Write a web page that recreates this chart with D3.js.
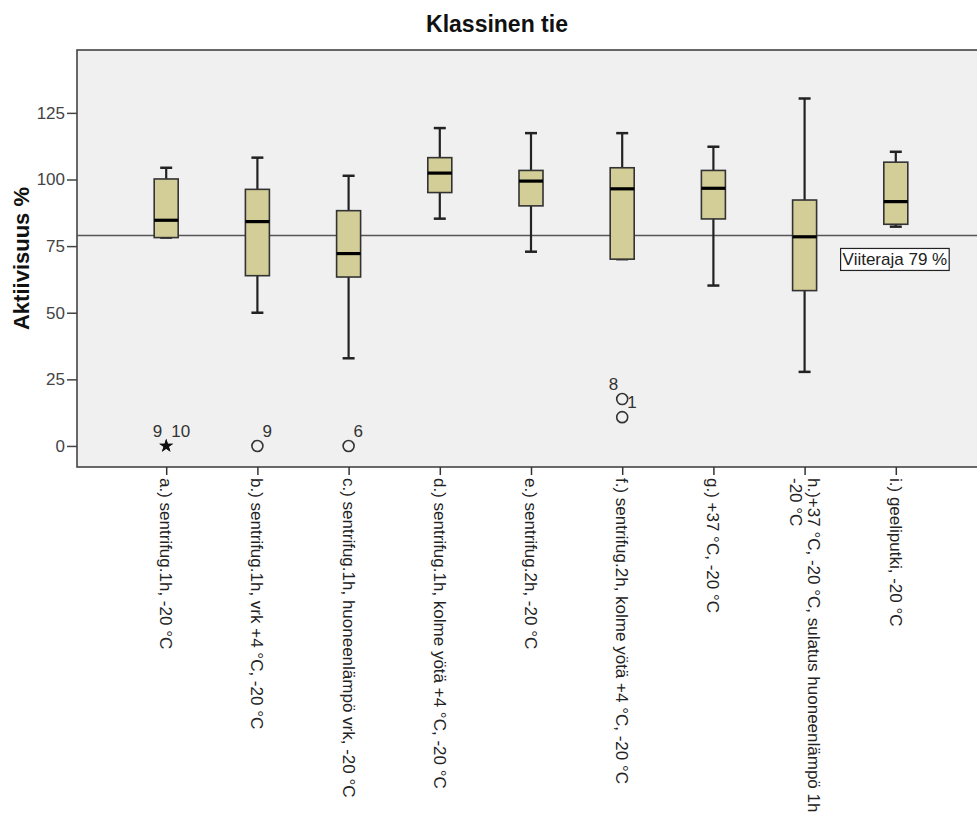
<!DOCTYPE html>
<html>
<head>
<meta charset="utf-8">
<script src="https://cdn.jsdelivr.net/npm/d3@7"></script>
<style>
  body { margin: 0; background: #fff; }
  text { font-family: "Liberation Sans", Arial, sans-serif; }
</style>
</head>
<body>
<div id="chart"></div>
<script>
// groups on the x axis
const categories = [
  "a.) sentrifug.1h, -20 °C",
  "b.) sentrifug.1h, vrk +4 °C, -20 °C",
  "c.) sentrifug.1h, huoneenlämpö vrk, -20 °C",
  "d.) sentrifug.1h, kolme yötä +4 °C, -20 °C",
  "e.) sentrifug.2h, -20 °C",
  "f.) sentrifug.2h, kolme yötä +4 °C, -20 °C",
  "g.) +37 °C, -20 °C",
  "h.)+37 °C, -20 °C, sulatus huoneenlämpö 1h\n-20 °C",
  "i.) geeliputki, -20 °C"
];

// box plot statistics (Aktiivisuus %)
const lowWhisker  = [78.2, 50.0, 32.9, 85.3, 72.9, 70.1, 60.2, 27.8, 82.3];
const q1          = [78.2, 63.9, 63.4, 95.1, 90.1, 70.1, 85.2, 58.3, 83.2];
const medians     = [84.7, 84.2, 72.2, 102.4, 99.4, 96.5, 96.7, 78.5, 91.7];
const q3          = [100.2, 96.3, 88.3, 108.2, 103.4, 104.4, 103.4, 92.3, 106.5];
const highWhisker = [104.4, 108.2, 101.4, 119.3, 117.4, 117.4, 112.3, 130.4, 110.4];

// outliers
const outlierGroup   = [0, 0, 1, 2, 5, 5];
const outlierValues  = [0, 0, 0, 0, 17.6, 10.8];
const outlierCases   = ["9", "10", "9", "6", "8", "1"];
const outlierExtreme = [true, true, false, false, false, false];
const outlierSide    = ["left", "right", "right", "right", "left", "right"];

const yTicks = [0, 25, 50, 75, 100, 125];
const refValue = 79;
const refLabel = "Viiteraja 79 %";

const W = 977, H = 814;
const plot = { left: 77, right: 987, top: 50, bottom: 467 };

const svg = d3.select("#chart").append("svg")
  .attr("width", W)
  .attr("height", H);

const x = d3.scalePoint()
  .domain(categories)
  .range([75, 987])
  .padding(1);

const y = d3.scaleLinear()
  .domain([-7.9, 148.6])
  .range([plot.bottom, plot.top]);

// background of plot
svg.append("rect")
  .attr("x", plot.left)
  .attr("y", plot.top)
  .attr("width", plot.right - plot.left)
  .attr("height", plot.bottom - plot.top)
  .attr("fill", "#f0f0f0")
  .attr("stroke", "#444")
  .attr("stroke-width", 1.6);

// title
svg.append("text")
  .attr("x", 497)
  .attr("y", 32)
  .attr("text-anchor", "middle")
  .style("font-size", "23px")
  .style("font-weight", "bold")
  .attr("fill", "#111")
  .text("Klassinen tie");

// y axis
const yAxis = d3.axisLeft(y).tickValues(yTicks).tickSize(10).tickPadding(2);
const gy = svg.append("g")
  .attr("transform", "translate(" + plot.left + ",0)")
  .call(yAxis);
gy.select(".domain").remove();
gy.selectAll(".tick line").attr("stroke", "#444").attr("stroke-width", 1.5);
gy.selectAll(".tick text")
  .style("font-size", "17px")
  .style("font-family", "'Liberation Sans', Arial, sans-serif")
  .attr("fill", "#444");

svg.append("text")
  .attr("transform", "translate(29," + ((plot.top + plot.bottom) / 2) + ") rotate(-90)")
  .attr("text-anchor", "middle")
  .style("font-size", "22px")
  .style("font-weight", "bold")
  .attr("fill", "#111")
  .text("Aktiivisuus %");

// x axis
const xAxis = d3.axisBottom(x).tickSize(8).tickFormat("");
const gx = svg.append("g")
  .attr("transform", "translate(0," + plot.bottom + ")")
  .call(xAxis);
gx.select(".domain").remove();
gx.selectAll(".tick line").attr("stroke", "#333").attr("stroke-width", 1.5);

// rotated category labels
categories.forEach(function(c) {
  const lines = c.split("\n");
  const t = svg.append("text")
    .attr("transform", "translate(" + x(c) + "," + (plot.bottom + 11) + ") rotate(90)")
    .style("font-size", "17px")
    .attr("fill", "#222");
  lines.forEach(function(line, i) {
    t.append("tspan")
      .attr("x", 0)
      .attr("y", 0)
      .attr("dy", (0.35 + (i - (lines.length - 1) / 2) * 1.05) + "em")
      .text(line);
  });
});

// reference line
svg.append("line")
  .attr("x1", plot.left)
  .attr("x2", plot.right)
  .attr("y1", y(refValue))
  .attr("y2", y(refValue))
  .attr("stroke", "#555")
  .attr("stroke-width", 1.6);

// boxes
const boxW = 24, capW = 12;
const boxes = svg.append("g").selectAll("g")
  .data(categories)
  .enter()
  .append("g");

boxes.append("line")
  .attr("x1", (d) => x(d))
  .attr("x2", (d) => x(d))
  .attr("y1", (d, i) => y(highWhisker[i]))
  .attr("y2", (d, i) => y(lowWhisker[i]))
  .attr("stroke", "#222")
  .attr("stroke-width", 2.2);

boxes.append("line")
  .attr("x1", (d) => x(d) - capW / 2)
  .attr("x2", (d) => x(d) + capW / 2)
  .attr("y1", (d, i) => y(highWhisker[i]))
  .attr("y2", (d, i) => y(highWhisker[i]))
  .attr("stroke", "#222")
  .attr("stroke-width", 2.5);

boxes.append("line")
  .attr("x1", (d) => x(d) - capW / 2)
  .attr("x2", (d) => x(d) + capW / 2)
  .attr("y1", (d, i) => y(lowWhisker[i]))
  .attr("y2", (d, i) => y(lowWhisker[i]))
  .attr("stroke", "#222")
  .attr("stroke-width", 2.5);

boxes.append("rect")
  .attr("x", (d) => x(d) - boxW / 2)
  .attr("width", boxW)
  .attr("y", (d, i) => y(q3[i]))
  .attr("height", (d, i) => y(q1[i]) - y(q3[i]))
  .attr("fill", "#d3ce97")
  .attr("stroke", "#333")
  .attr("stroke-width", 1.6);

boxes.append("line")
  .attr("x1", (d) => x(d) - boxW / 2)
  .attr("x2", (d) => x(d) + boxW / 2)
  .attr("y1", (d, i) => y(medians[i]))
  .attr("y2", (d, i) => y(medians[i]))
  .attr("stroke", "#000")
  .attr("stroke-width", 3.2);

// outliers
const star = d3.symbol().type(d3.symbolStar).size(60);
outlierValues.forEach(function(v, i) {
  const cx = x(categories[outlierGroup[i]]);
  const cy = y(v);
  if (outlierExtreme[i]) {
    svg.append("path")
      .attr("d", star())
      .attr("transform", "translate(" + cx + "," + cy + ")")
      .attr("fill", "#111");
  } else {
    svg.append("circle")
      .attr("cx", cx)
      .attr("cy", cy)
      .attr("r", 5.5)
      .attr("fill", "none")
      .attr("stroke", "#333")
      .attr("stroke-width", 1.6);
  }
  const left = outlierSide[i] === "left";
  svg.append("text")
    .attr("x", left ? cx - 4 : cx + 5)
    .attr("y", cy - 9)
    .attr("text-anchor", left ? "end" : "start")
    .style("font-size", "17px")
    .attr("fill", "#333")
    .text(outlierCases[i]);
});

// reference line label
const lx = x(categories[7]) + 36, ly = y(refValue) + 13;
const lblBox = svg.append("rect");
const lbl = svg.append("text")
  .attr("x", lx + 2)
  .attr("y", ly + 17)
  .style("font-size", "17px")
  .attr("fill", "#222")
  .text(refLabel);
const bb = lbl.node().getBBox();
lblBox
  .attr("x", lx)
  .attr("y", ly)
  .attr("width", bb.width + 4)
  .attr("height", 22)
  .attr("fill", "#fff")
  .attr("stroke", "#222")
  .attr("stroke-width", 1.2);
</script>
</body>
</html>
